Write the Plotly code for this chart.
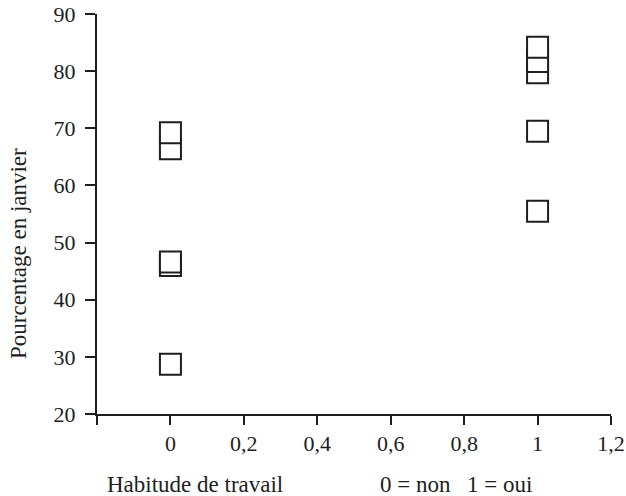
import plotly.graph_objects as go

# Data
habitude = [0, 1, 0, 0, 1, 0, 1, 0, 1, 1]
pourcentage = [28.7, 55.5, 46.0, 46.6, 69.5, 66.4, 79.7, 69.2, 81.7, 84.2]

x_tickvals = [-0.2, 0, 0.2, 0.4, 0.6, 0.8, 1, 1.2]
x_ticktext = ["", "0", "0,2", "0,4", "0,6", "0,8", "1", "1,2"]
y_tickvals = [20, 30, 40, 50, 60, 70, 80, 90]

font_family = "Liberation Serif"
tick_size = 22
title_size = 23
ink = "#1e1e1e"

L, R, T, B = 97, 611, 14, 414
W, H = R - L, B - T

def px(x):
    return (x - L) / W

def py(y):
    return (B - y) / H

fig = go.Figure()
fig.add_trace(go.Scatter(
    x=habitude, y=pourcentage, mode="markers",
    marker=dict(symbol="square", size=21, color="white",
                line=dict(color=ink, width=2)),
    hoverinfo="skip", showlegend=False,
))

fig.update_layout(
    width=626, height=496,
    margin=dict(l=L, r=626 - R, t=T, b=496 - B),
    paper_bgcolor="white", plot_bgcolor="white",
    font=dict(family=font_family, size=tick_size, color=ink),
    showlegend=False,
)
fig.update_xaxes(
    range=[-0.2, 1.2], tickvals=x_tickvals, ticktext=x_ticktext,
    showgrid=False, zeroline=False, showline=True, linecolor=ink, linewidth=2,
    ticks="outside", ticklen=9, tickwidth=2, tickcolor=ink, automargin=False,
    tickfont=dict(family=font_family, size=tick_size, color=ink),
)
fig.update_yaxes(
    range=[20, 90], tickvals=y_tickvals,
    showgrid=False, zeroline=False, showline=True, linecolor=ink, linewidth=2,
    ticks="outside", ticklen=10, tickwidth=2, tickcolor=ink, automargin=False,
    ticklabelstandoff=5,
    tickfont=dict(family=font_family, size=tick_size, color=ink),
)
for text, x0 in [("Habitude de travail", 105), ("0 = non", 378), ("1 = oui", 465)]:
    fig.add_annotation(
        text=text, xref="paper", yref="paper", x=px(x0), y=py(484),
        xanchor="left", yanchor="middle", showarrow=False,
        font=dict(family=font_family, size=title_size, color=ink),
    )
fig.add_annotation(
    text="Pourcentage en janvier",
    xref="paper", yref="paper", x=px(18), y=py(254),
    xanchor="center", yanchor="middle", textangle=-90, showarrow=False,
    font=dict(family=font_family, size=title_size, color=ink),
)

fig.write_html("out.html", config={"displayModeBar": False},
               post_script="document.body.style.margin='0px';")
